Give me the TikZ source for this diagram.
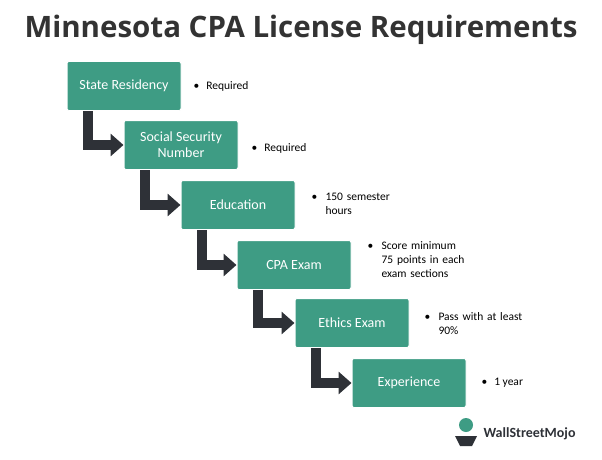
\documentclass[tikz,border=0pt]{standalone}
\usepackage{fontspec}
\setmainfont{Carlito}
\newfontfamily\titlefont{Open Sans}
\usetikzlibrary{arrows.meta}
\definecolor{teal1}{HTML}{3E9C84}
\definecolor{darkarr}{HTML}{2E3137}
\definecolor{titlec}{HTML}{333333}
\begin{document}
\begin{tikzpicture}[x=1pt,y=-1pt,
  stepbox/.style={fill=teal1,draw=white,line width=1pt,rounded corners=2pt,minimum width=114pt,minimum height=49pt,text=white,font=\fontsize{14}{16}\selectfont,align=center,inner sep=2pt},
  note/.style={anchor=west,font=\fontsize{11.5}{14}\selectfont,align=left,text=black},
  elbow/.style={draw=darkarr,line width=10pt,line join=miter,-{Triangle[length=13pt,width=22pt]}}]
\useasboundingbox (0,0) rectangle (602,460);
\fill[white] (0,0) rectangle (602,460);
\node[font=\titlefont\bfseries\fontsize{29.5}{33}\selectfont,text=titlec] (title) at (301,30) {Minnesota CPA License Requirements};
\node[stepbox] (b1) at (124,86) {State Residency};
\node[stepbox] (b2) at (181,145) {Social Security\\Number};
\node[stepbox] (b3) at (238,205) {Education};
\node[stepbox] (b4) at (294,265) {CPA Exam};
\node[stepbox] (b5) at (352,323) {Ethics Exam};
\node[stepbox] (b6) at (409,383) {Experience};
\node[note] (n1) at (190,86) {•\hspace{7pt}Required};
\node[note] (n2) at (248,148) {•\hspace{7pt}Required};
\node[note,text width=100pt] (n3) at (308,204) {\makebox[0pt][l]{•}\hspace{14pt}150 semester\\\hspace*{14pt}hours};
\node[note,text width=110pt] (n4) at (364,260) {\makebox[0pt][l]{•}\hspace{14pt}Score minimum\\\hspace*{14pt}75 points in each\\\hspace*{14pt}exam sections};
\node[note,text width=110pt] (n5) at (421,324) {\makebox[0pt][l]{•}\hspace{14pt}Pass with at least\\\hspace*{14pt}90\%};
\node[note] (n6) at (478,383) {•\hspace{7pt}1 year};
\foreach \a/\b/\x in {b1/b2/88, b2/b3/145, b3/b4/202, b4/b5/258, b5/b6/316}{
  \draw[elbow] (\a.south -| \x,0) |- (\b.west);
}
% logo
\fill[teal1] (466,425) circle (7pt);
\fill[darkarr] (455,436) -- (477,436) -- (472,446) -- (460,446) -- cycle;
\node[anchor=west,font=\bfseries\fontsize{14}{16}\selectfont,text=darkarr] (logo) at (480,434) {WallStreetMojo};
\end{tikzpicture}
\end{document}
